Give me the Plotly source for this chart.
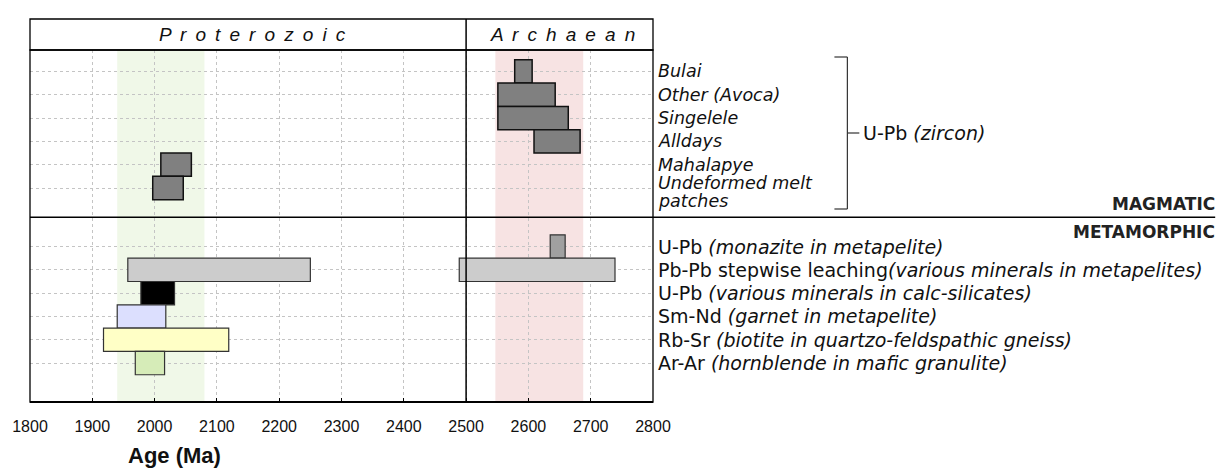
import plotly.graph_objects as go

# Magmatic (U-Pb zircon) ages, Ma
mag_labels = ["Bulai", "Other (Avoca)", "Singelele", "Alldays", "Mahalapye",
              "Undeformed melt<br>patches"]
mag_start = [2578, 2551, 2551, 2609, 2010, 1997]
mag_end = [2606, 2643, 2664, 2683, 2059, 2046]

# Metamorphic ages, Ma
meta_methods = ["U-Pb ", "Pb-Pb stepwise leaching", "U-Pb ", "Sm-Nd ", "Rb-Sr ", "Ar-Ar "]
meta_notes = ["(monazite in metapelite)", "(various minerals in metapelites)",
              "(various minerals in calc-silicates)", "(garnet in metapelite)",
              "(biotite in quartzo-feldspathic gneiss)", "(hornblende in mafic granulite)"]
meta_row = [0, 1, 1, 2, 3, 4, 5]
meta_start = [2635, 1957, 2489, 1978, 1940, 1918, 1969]
meta_end = [2659, 2250, 2739, 2032, 2018, 2119, 2016]
meta_colors = ["#a0a0a0", "#cccccc", "#cccccc", "#000000", "#dcdffe", "#ffffc6", "#d6ecb8"]

# Era shading, Ma
green_band = [1940, 2080]
pink_band = [2547, 2688]

x_ticks = list(range(1800, 2801, 100))

# layout geometry
W, H = 1217, 473
L, R, T, B = 28, 564, 50, 71
pw, ph = W - L - R, H - T - B
Y_MAX = 15.1
mag_y = [0.92 + i for i in range(len(mag_labels))]
meta_y = [8.43 + i for i in range(len(meta_methods))]
div_y = 7.17

def px_x(px):
    return (px - L) / pw

def px_yp(px):
    return (H - B - px) / ph

def px_yd(px):
    return (px - T) / ph * Y_MAX

def spaced(word):
    return " \u2009".join(word)

lab_font = "Liberation Sans, Arial, sans-serif"
ui_font = "DejaVu Sans, sans-serif"

fig = go.Figure()

fig.add_trace(go.Bar(
    orientation="h", y=mag_y, base=mag_start,
    x=[e - s for s, e in zip(mag_start, mag_end)],
    width=1, marker=dict(color="#808080", line=dict(color="#111111", width=1.5)),
    hoverinfo="skip", showlegend=False))

fig.add_trace(go.Bar(
    orientation="h", y=[meta_y[r] for r in meta_row], base=meta_start,
    x=[e - s for s, e in zip(meta_start, meta_end)],
    width=1, marker=dict(color=meta_colors, line=dict(color="#333333", width=1.2)),
    hoverinfo="skip", showlegend=False))

shapes = []
# era shading behind bars
for band, col in ((green_band, "#f0f8e8"), (pink_band, "#f7e3e3")):
    shapes.append(dict(type="rect", xref="x", yref="paper", x0=band[0], x1=band[1],
                       y0=0, y1=1, fillcolor=col, line=dict(width=0), layer="below"))
# plot frame
shapes.append(dict(type="rect", xref="paper", yref="paper", x0=0, x1=1, y0=0, y1=1,
                   line=dict(color="#000000", width=1.3)))
shapes.append(dict(type="line", xref="paper", yref="paper", x0=0, x1=1, y0=0, y1=0,
                   line=dict(color="#000000", width=2.2)))
# header box
shapes.append(dict(type="rect", xref="paper", yref="paper", x0=0, x1=1,
                   y0=1, y1=px_yp(19), line=dict(color="#000000", width=1.3)))
# Archaean / Proterozoic boundary
shapes.append(dict(type="line", xref="x", yref="paper", x0=2500, x1=2500,
                   y0=0, y1=px_yp(19), line=dict(color="#000000", width=1.5)))
# magmatic / metamorphic divider
shapes.append(dict(type="line", xref="paper", yref="y", x0=0, x1=px_x(W),
                   y0=div_y, y1=div_y, line=dict(color="#000000", width=1.5)))
# bracket for the zircon group
bx = px_x(848)
ytop, ybot, ymid = px_yd(57), px_yd(209), px_yd(133)
for yy in (ytop, ybot):
    shapes.append(dict(type="line", xref="paper", yref="y", x0=px_x(835), x1=bx,
                       y0=yy, y1=yy, line=dict(color="#333333", width=1.2)))
shapes.append(dict(type="line", xref="paper", yref="y", x0=bx, x1=bx,
                   y0=ytop, y1=ybot, line=dict(color="#333333", width=1.2)))
shapes.append(dict(type="line", xref="paper", yref="y", x0=bx, x1=px_x(860),
                   y0=ymid, y1=ymid, line=dict(color="#333333", width=1.2)))

ann = []
for lab, yy in zip(mag_labels, mag_y):
    lines = lab.split("<br>")
    n = len(lines)
    for k, line in enumerate(lines):
        shift = 0 if n == 1 else (-4 - (k - (n - 1) / 2) * 18)
        ann.append(dict(text="<i>%s</i>" % line, xref="paper", yref="y", x=px_x(656), y=yy,
                        xanchor="left", yanchor="middle", showarrow=False, yshift=shift,
                        font=dict(family=ui_font, size=17.5, color="#111111")))
for m, n, yy in zip(meta_methods, meta_notes, meta_y):
    ann.append(dict(text="%s<i>%s</i>" % (m, n), xref="paper", yref="y", x=px_x(656), y=yy,
                    xanchor="left", yanchor="middle", showarrow=False,
                    font=dict(family=ui_font, size=19, color="#111111")))
ann.append(dict(text="U-Pb <i>(zircon)</i>", xref="paper", yref="y", x=px_x(862), y=ymid,
                xanchor="left", yanchor="middle", showarrow=False,
                font=dict(family=ui_font, size=19, color="#111111")))
ann.append(dict(text="<b>MAGMATIC</b>", xref="paper", yref="y", x=px_x(1219), y=px_yd(204),
                xanchor="right", yanchor="middle", showarrow=False,
                font=dict(family=ui_font, size=17, color="#222222")))
ann.append(dict(text="<b>METAMORPHIC</b>", xref="paper", yref="y", x=px_x(1219), y=px_yd(232),
                xanchor="right", yanchor="middle", showarrow=False,
                font=dict(family=ui_font, size=17, color="#222222")))
ann.append(dict(text="<i>%s</i>" % spaced("Proterozoic"), xref="paper", yref="paper",
                x=px_x(251), y=px_yp(34), xanchor="center", yanchor="middle", showarrow=False,
                font=dict(family=lab_font, size=19, color="#111111")))
ann.append(dict(text="<i>%s</i>" % spaced("Archaean"), xref="paper", yref="paper",
                x=px_x(562), y=px_yp(34), xanchor="center", yanchor="middle", showarrow=False,
                font=dict(family=lab_font, size=19, color="#111111")))
ann.append(dict(text="<b>Age (Ma)</b>", xref="paper", yref="paper",
                x=px_x(173), y=px_yp(455), xanchor="center", yanchor="middle", showarrow=False,
                font=dict(family=lab_font, size=22, color="#111111")))

fig.update_layout(
    width=W, height=H, margin=dict(l=L, r=R, t=T, b=B),
    paper_bgcolor="#ffffff", plot_bgcolor="rgba(0,0,0,0)",
    shapes=shapes, annotations=ann, barmode="overlay",
    xaxis=dict(range=[1800, 2800], tickvals=x_ticks, ticktext=[str(v) for v in x_ticks],
               ticks="inside", ticklen=4, tickcolor="#000000", showline=False,
               showgrid=True, gridcolor="#c4c4c4", griddash="dot", gridwidth=1,
               zeroline=False, ticklabelstandoff=13,
               tickfont=dict(family=lab_font, size=16, color="#111111")),
    yaxis=dict(range=[Y_MAX, 0], tickvals=mag_y + meta_y, showticklabels=False,
               ticks="", showgrid=True, gridcolor="#c4c4c4", griddash="dot", gridwidth=1,
               zeroline=False, showline=False),
)

fig.write_html("out.html")
